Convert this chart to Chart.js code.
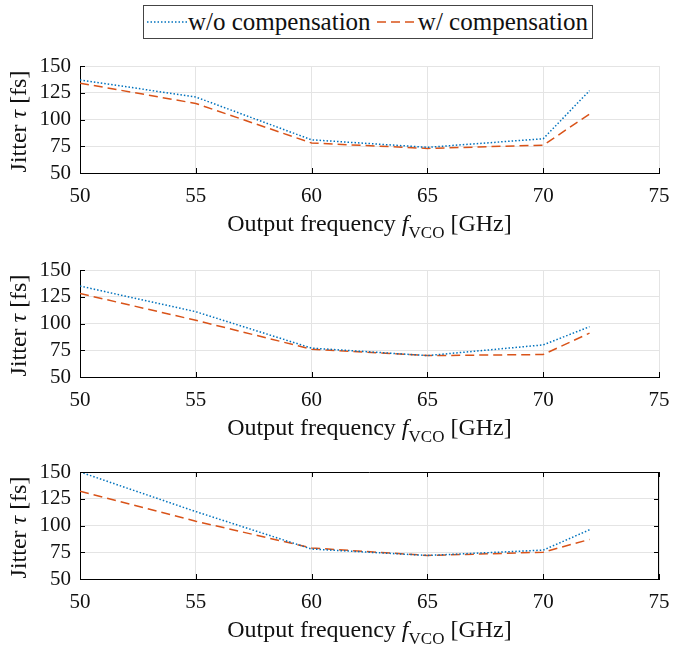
<!DOCTYPE html>
<html>
<head>
<meta charset="utf-8">
<script src="https://cdn.jsdelivr.net/npm/chart.js@4.4.1/dist/chart.umd.min.js"></script>
<style>
    body { margin: 0; background: #fff; width: 673px; height: 654px; overflow: hidden; position: relative; }
    .plot { position: absolute; left: 0; }
    .legend {
        position: absolute; left: 143px; top: 5px; height: 32px;
        border: 1px solid #444; background: #fff;
        display: flex; align-items: center; padding: 0 4px 0 3px;
        font-family: "Liberation Serif", "Times New Roman", Times, serif;
        font-size: 25px; color: #111; white-space: nowrap;
    }
    .legend svg { margin-right: 1px; }
</style>
</head>
<body>

<div class="legend">
    <svg width="40" height="10"><line x1="0" y1="5" x2="40" y2="5" stroke="#0072BD" stroke-width="1.5" stroke-dasharray="1.5,2"/></svg>
    <span>w/o compensation&nbsp;</span>
    <svg width="40" height="10"><line x1="0" y1="5" x2="40" y2="5" stroke="#D95319" stroke-width="1.5" stroke-dasharray="9,5"/></svg>
    <span>w/ compensation</span>
</div>

<div class="plot" style="top:50px"><canvas id="chart1" width="673" height="206"></canvas></div>
<div class="plot" style="top:254px"><canvas id="chart2" width="673" height="206"></canvas></div>
<div class="plot" style="top:456px"><canvas id="chart3" width="673" height="206"></canvas></div>

<script>
// output frequency [GHz]
const freqs = [50, 55, 60, 65, 70, 72];

// jitter [fs], one pair of series per subplot
const woComp1 = [137, 121, 81, 74, 82, 127];
const wComp1  = [134, 115, 78, 73, 76, 105];

const woComp2 = [135, 111, 77, 70, 80, 97];
const wComp2  = [128, 103, 76, 70, 71, 91];

const woComp3 = [150, 113, 78, 72, 77, 96];
const wComp3  = [132, 104, 79, 72, 75, 87];

const xTicks = [50, 55, 60, 65, 70, 75];
const yTicks = [50, 75, 100, 125, 150];

const blue = '#0072BD';
const orange = '#D95319';
const gridColor = '#e4e4e4';
const serif = '"Liberation Serif", "Times New Roman", Times, serif';

Chart.defaults.font.family = serif;

function toPoints(ys) {
    return freqs.map(function(f, i) { return { x: f, y: ys[i] }; });
}

// draws a run of text pieces with different styles, centred on x
function drawRich(ctx, segs, cx, baseline) {
    let total = 0;
    segs.forEach(function(s) { ctx.font = s.font; s.w = ctx.measureText(s.text).width; total += s.w; });
    let x = cx - total / 2;
    segs.forEach(function(s) {
        ctx.font = s.font;
        ctx.fillText(s.text, x, baseline + (s.dy || 0));
        x += s.w;
    });
}

// axis titles with italic symbol and subscript
const richTitles = {
    id: 'richTitles',
    afterDraw(chart) {
        const ctx = chart.ctx;
        const a = chart.chartArea;
        ctx.save();
        ctx.fillStyle = '#111';
        ctx.textBaseline = 'alphabetic';
        ctx.textAlign = 'left';
        drawRich(ctx, [
            { text: 'Output frequency ', font: '24px ' + serif },
            { text: 'f', font: 'italic 24px ' + serif },
            { text: 'VCO', font: '17px ' + serif, dy: 7 },
            { text: ' [GHz]', font: '24px ' + serif }
        ], (a.left + a.right) / 2, a.bottom + 58);

        ctx.translate(20, (a.top + a.bottom) / 2 + 2);
        ctx.rotate(-Math.PI / 2);
        ctx.textBaseline = 'middle';
        drawRich(ctx, [
            { text: 'Jitter ', font: '24px ' + serif },
            { text: '\u03C4', font: 'italic 24px ' + serif },
            { text: ' [fs]', font: '24px ' + serif }
        ], 0, 0);
        ctx.restore();
    }
};

// inward tick marks, plus a closed box when asked
const inwardTicks = {
    id: 'inwardTicks',
    afterDraw(chart, args, opts) {
        const ctx = chart.ctx;
        const a = chart.chartArea;
        const xs = chart.scales.x, ys = chart.scales.y;
        const len = 5;
        ctx.save();
        ctx.strokeStyle = '#000';
        ctx.lineWidth = 1;
        ctx.beginPath();
        if (opts.box) {
            ctx.moveTo(a.left, a.top + 0.5); ctx.lineTo(a.right, a.top + 0.5);
            ctx.moveTo(a.right - 0.5, a.top); ctx.lineTo(a.right - 0.5, a.bottom);
        }
        xTicks.forEach(function(v) {
            const px = Math.round(xs.getPixelForValue(v)) + 0.5;
            ctx.moveTo(px, a.bottom); ctx.lineTo(px, a.bottom - len);
            if (opts.box) { ctx.moveTo(px, a.top); ctx.lineTo(px, a.top + len); }
        });
        yTicks.forEach(function(v) {
            const py = Math.round(ys.getPixelForValue(v)) + 0.5;
            ctx.moveTo(a.left, py); ctx.lineTo(a.left + len, py);
            if (opts.box) { ctx.moveTo(a.right, py); ctx.lineTo(a.right - len, py); }
        });
        ctx.stroke();
        ctx.restore();
    }
};

function makeChart(id, woData, wData, box) {
    const ctx = document.getElementById(id).getContext('2d');
    return new Chart(ctx, {
        type: 'line',
        data: {
            datasets: [{
                label: 'w/o compensation',
                data: toPoints(woData),
                borderColor: blue,
                borderWidth: 1.5,
                borderDash: [1.5, 2],
                pointRadius: 0,
                tension: 0,
                fill: false
            }, {
                label: 'w/ compensation',
                data: toPoints(wData),
                borderColor: orange,
                borderWidth: 1.5,
                borderDash: [9, 5],
                pointRadius: 0,
                tension: 0,
                fill: false
            }]
        },
        options: {
            responsive: false,
            animation: false,
            layout: {
                padding: { top: 16, left: 0, right: 14, bottom: 0 }
            },
            plugins: {
                legend: { display: false },
                title: { display: false },
                tooltip: { enabled: false },
                inwardTicks: { box: box }
            },
            scales: {
                x: {
                    type: 'linear',
                    min: 50,
                    max: 75,
                    afterBuildTicks: function(scale) {
                        scale.ticks = xTicks.map(function(v) { return { value: v }; });
                    },
                    afterFit: function(scale) {
                        scale.height = 83;
                        scale.paddingLeft = 0;
                        scale.paddingRight = 0;
                    },
                    ticks: {
                        color: '#111',
                        font: { family: serif, size: 21 },
                        padding: 11,
                        maxRotation: 0,
                        autoSkip: false
                    },
                    grid: { color: gridColor, drawTicks: false },
                    border: { color: '#000', width: 1 }
                },
                y: {
                    min: 50,
                    max: 150,
                    afterBuildTicks: function(scale) {
                        scale.ticks = yTicks.map(function(v) { return { value: v }; });
                    },
                    afterFit: function(scale) {
                        scale.width = 80;
                        scale.paddingTop = 0;
                        scale.paddingBottom = 0;
                    },
                    ticks: {
                        color: '#111',
                        font: { family: serif, size: 21 },
                        padding: 9,
                        autoSkip: false
                    },
                    grid: { color: gridColor, drawTicks: false },
                    border: { color: '#000', width: 1 }
                }
            }
        },
        plugins: [richTitles, inwardTicks]
    });
}

makeChart('chart1', woComp1, wComp1, false);
makeChart('chart2', woComp2, wComp2, false);
makeChart('chart3', woComp3, wComp3, true);
</script>
</body>
</html>
